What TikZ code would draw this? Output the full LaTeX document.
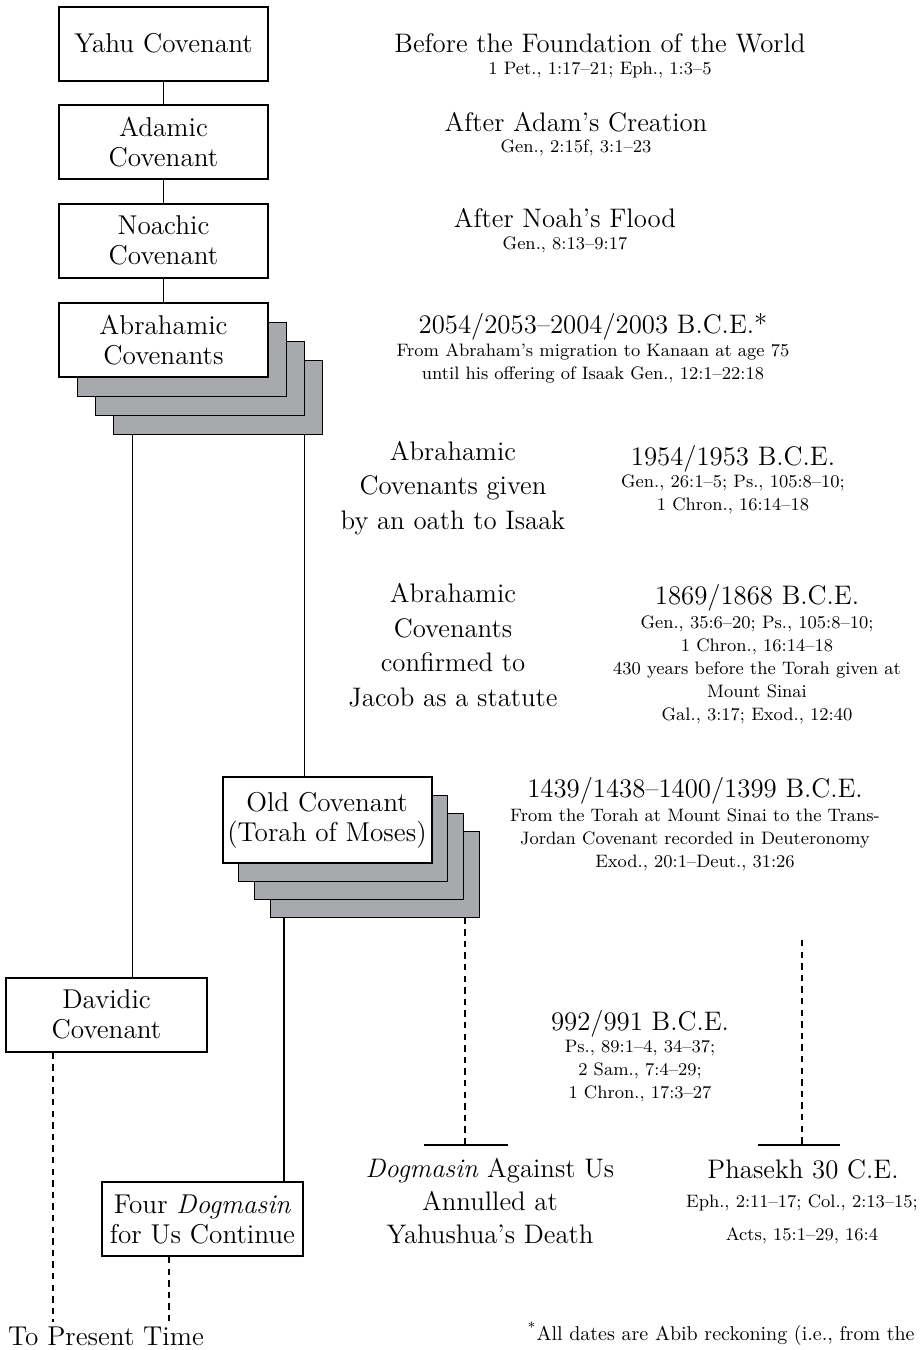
\documentclass[tikz,border=0pt]{standalone}
\usepackage{fontspec}
\usepackage{tikz}
\definecolor{shadeGray}{HTML}{A7A9AC}
\newcommand{\boxfont}{\fontsize{13.6}{15}\selectfont}
\newcommand{\bigfont}{\fontsize{13.4}{17.2}\selectfont}
\newcommand{\smallfont}{\fontsize{9}{11.5}\selectfont}
\tikzset{
  covbox/.style={draw, line width=1pt, fill=white, inner sep=0pt, align=center, font=\boxfont,
    minimum width=104.5pt, minimum height=37pt},
  shadebox/.style={draw, line width=0.5pt, fill=shadeGray, inner sep=0pt,
    minimum width=104.5pt, minimum height=37pt},
  link/.style={line width=0.55pt},
  dlink/.style={line width=0.55pt, dash pattern=on 3.2pt off 2.6pt},
  endbar/.style={line width=1.3pt},
  era/.style={font=\bigfont, align=center, inner sep=0pt, anchor=base},
  refs/.style={font=\smallfont, align=center, inner sep=0pt, anchor=base},
}

\begin{document}
\begin{tikzpicture}[x=0.5pt, y=-0.5pt]
\useasboundingbox (0,0) rectangle (920,1350);
% covenant boxes, left column
\node[covbox] (yahu) at (163.5,43.5) {Yahu Covenant};
\node[covbox] (adam) at (163.5,142) {Adamic\\Covenant};
\node[covbox] (noah) at (163.5,240.5) {Noachic\\Covenant};
\foreach \k in {3,2,1}
  \node[shadebox] (abr\k) at ({163.5+18*\k},{340+19*\k}) {};
\node[covbox] (abr) at (163.5,340) {Abrahamic\\Covenants};
\foreach \k in {3,2,1}
  \node[shadebox, minimum height=43pt] (old\k) at ({327+16*\k},{820+18*\k}) {};
\node[covbox, minimum height=43pt] (old) at (327,820) {Old Covenant\\(Torah of Moses)};
\node[covbox, minimum width=100.5pt] (dav) at (106.5,1014.5) {Davidic\\Covenant};
\node[covbox, minimum width=100.5pt] (four) at (202.5,1219) {Four \textit{Dogmasin}\\for Us Continue};
\node[font=\boxfont, inner sep=2pt, anchor=base] (present) at (106,1345) {To Present Time};
% bars and free ends
\coordinate (annulL) at (424,1145);
\coordinate (annulR) at (508,1145);
\coordinate (passL) at (758,1145);
\coordinate (passR) at (840,1145);
\coordinate (passtop) at (802,940);
\draw[endbar] (annulL) -- (annulR);
\draw[endbar] (passL) -- (passR);
% connectors
\draw[link] (yahu) -- (adam);
\draw[link] (adam) -- (noah);
\draw[link] (noah) -- (abr);
\draw[link] ([xshift=10pt]abr3.south west) -- ([xshift=10pt]abr3.south west |- dav.north);
\draw[link] ([xshift=-9pt]abr3.south east) -- ([xshift=-9pt]abr3.south east |- old.north);
\draw[link] ([xshift=7pt]old3.south west) -- ([xshift=7pt]old3.south west |- four.north);
\draw[dlink] ([xshift=24pt]dav.south west) -- ([xshift=24pt]dav.south west |- present.north);
\draw[dlink] ([xshift=34pt]four.south west) -- ([xshift=34pt]four.south west |- present.north);
\draw[dlink] ([xshift=-7.5pt]old3.south east) -- ([xshift=-7.5pt]old3.south east |- annulL);
\draw[dlink] (passtop) -- (passtop |- passL);
% right column texts (base = last line)
\node[era] (foundtxt) at (600,52) {Before the Foundation of the World};
\node[refs] (foundref) at (600,74) {1 Pet., 1:17--21; Eph., 1:3--5};
\node[era] (adamtxt) at (576,131) {After Adam's Creation};
\node[refs] (adamref) at (576,152) {Gen., 2:15f, 3:1--23};
\node[era] (noahtxt) at (565,227) {After Noah's Flood};
\node[refs] (noahref) at (565,249) {Gen., 8:13--9:17};
\node[era] (abrdate) at (593,333) {2054/2053--2004/2003 B.C.E.*};
\node[refs] (abrref) at (593,379) {From Abraham's migration to Kanaan at age 75\\until his offering of Isaak Gen., 12:1--22:18};
\node[era] (isaaktxt) at (453,529) {Abrahamic\\Covenants given\\by an oath to Isaak};
\node[era] (isaakdate) at (733,465) {1954/1953 B.C.E.};
\node[refs] (isaakref) at (733,510) {Gen., 26:1--5; Ps., 105:8--10;\\1 Chron., 16:14--18};
\node[era] (jacobtxt) at (453,706) {Abrahamic\\Covenants\\confirmed to\\Jacob as a statute};
\node[era] (jacobdate) at (757,604) {1869/1868 B.C.E.};
\node[refs] (jacobref) at (757,720) {Gen., 35:6--20; Ps., 105:8--10;\\1 Chron., 16:14--18\\430 years before the Torah given at\\Mount Sinai\\Gal., 3:17; Exod., 12:40};
\node[era] (sinaidate) at (695,797) {1439/1438--1400/1399 B.C.E.};
\node[refs] (sinairef) at (695,867) {From the Torah at Mount Sinai to the Trans-\\Jordan Covenant recorded in Deuteronomy\\Exod., 20:1--Deut., 31:26};
\node[era] (davdate) at (640,1030) {992/991 B.C.E.};
\node[refs] (davref) at (640,1098) {Ps., 89:1--4, 34--37;\\2 Sam., 7:4--29;\\1 Chron., 17:3--27};
\node[era, font=\fontsize{13.4}{16.3}\selectfont] (annultxt) at (490,1243) {\textit{Dogmasin} Against Us\\Annulled at\\Yahushua's Death};
\node[era] (passtxt) at (803,1178) {Phasekh 30 C.E.};
\node[refs, font=\fontsize{9}{16.5}\selectfont] (passref) at (802,1240) {Eph., 2:11--17; Col., 2:13--15;\\Acts, 15:1--29, 16:4};
\node[era, font=\fontsize{10}{13}\selectfont, anchor=base east] (note) at (915,1340) {\textsuperscript{*}All dates are Abib reckoning (i.e., from the};
\end{tikzpicture}
\end{document}
